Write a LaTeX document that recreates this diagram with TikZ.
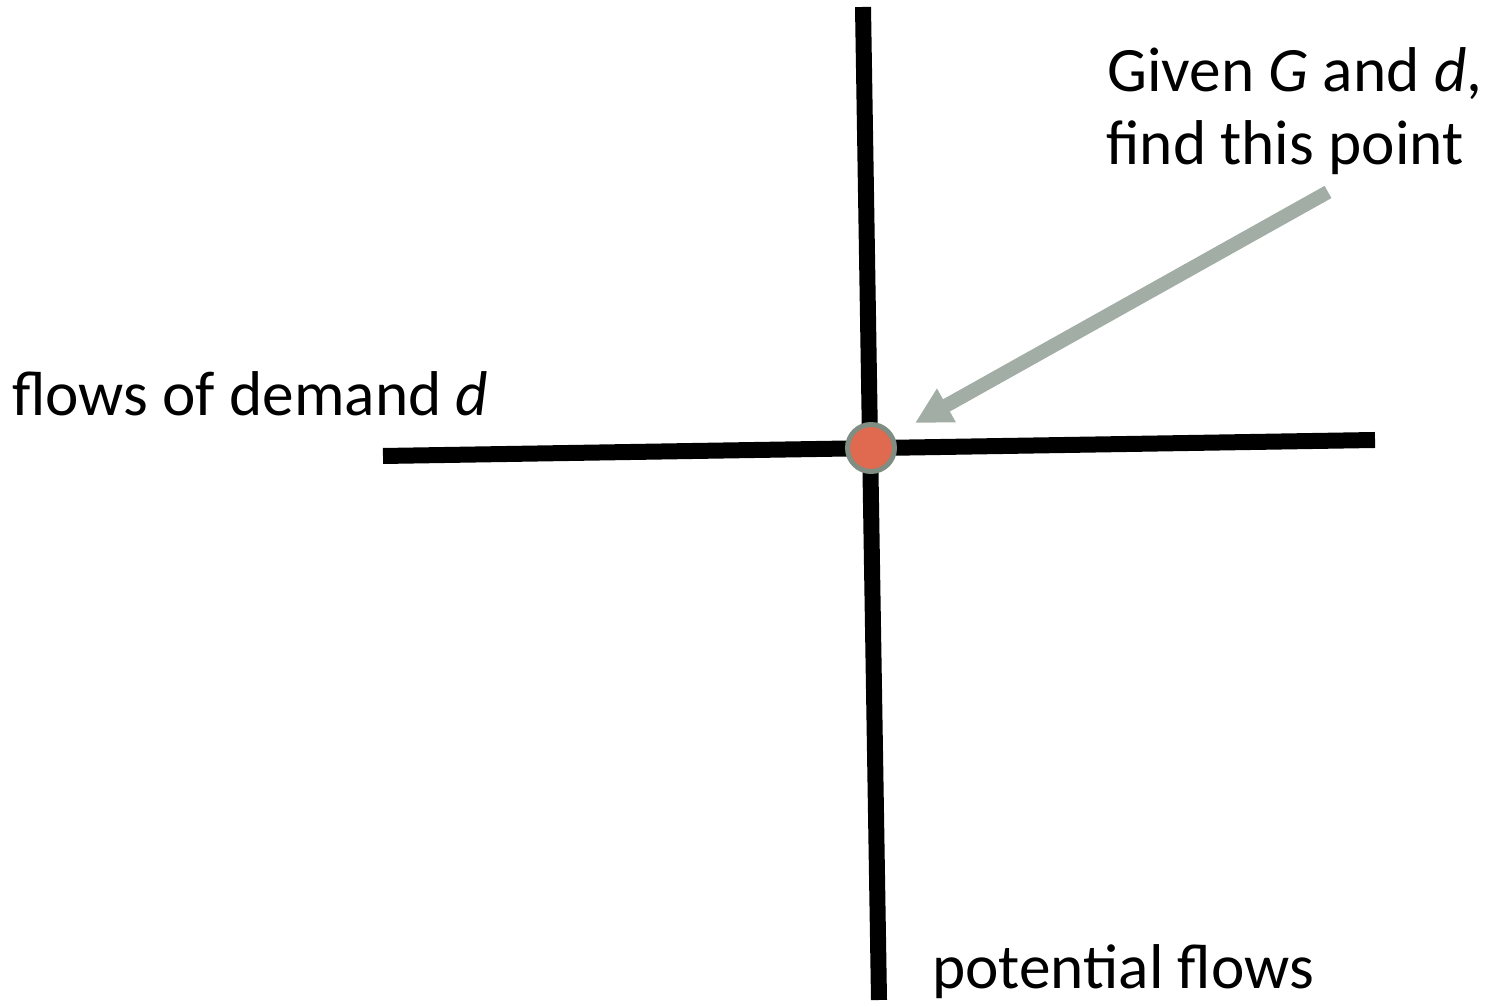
\documentclass[tikz,border=0pt]{standalone}
\usepackage{fontspec}
\setmainfont{Carlito}
\usetikzlibrary{arrows.meta}
\definecolor{dotfill}{HTML}{DF6A50}
\definecolor{dotrim}{HTML}{7F8D82}
\definecolor{hintgray}{HTML}{A2ADA6}
\begin{document}
\begin{tikzpicture}[line join=miter,
  axisline/.style={line width=0.32cm,black},
  txt/.style={anchor=base west,inner sep=0pt,font=\fontsize{36}{43}\selectfont}]
  \useasboundingbox (0,0) rectangle (29.82,20.12);
  % axes
  \coordinate (vtop) at (17.26,19.98);
  \coordinate (vbot) at (17.58,0.12);
  \coordinate (hleft) at (7.66,11.00);
  \coordinate (hright) at (27.50,11.32);
  \draw[axisline] (vtop) -- (vbot);
  \draw[axisline] (hleft) -- (hright);
  % the point
  \node[circle,fill=dotfill,draw=dotrim,line width=0.1cm,minimum size=0.94cm,inner sep=0pt] (pt) at (17.42,11.16) {};
  % pointer
  \coordinate (tail) at (26.56,16.28);
  \coordinate (tip) at (18.30,11.66);
  \draw[hintgray,line width=0.28cm,-{Triangle[length=0.72cm,width=0.72cm]}] (tail) -- (tip);
  % labels
  \node[txt] (given) at (22.14,18.28) {Given \textit{G} and \textit{d},};
  \node[txt] (find) at (22.12,16.82) {find this point};
  \node[txt] (demand) at (0.24,11.80) {flows of demand \textit{d}};
  \node[txt] (potential) at (18.64,0.34) {potential flows};
\end{tikzpicture}
\end{document}
